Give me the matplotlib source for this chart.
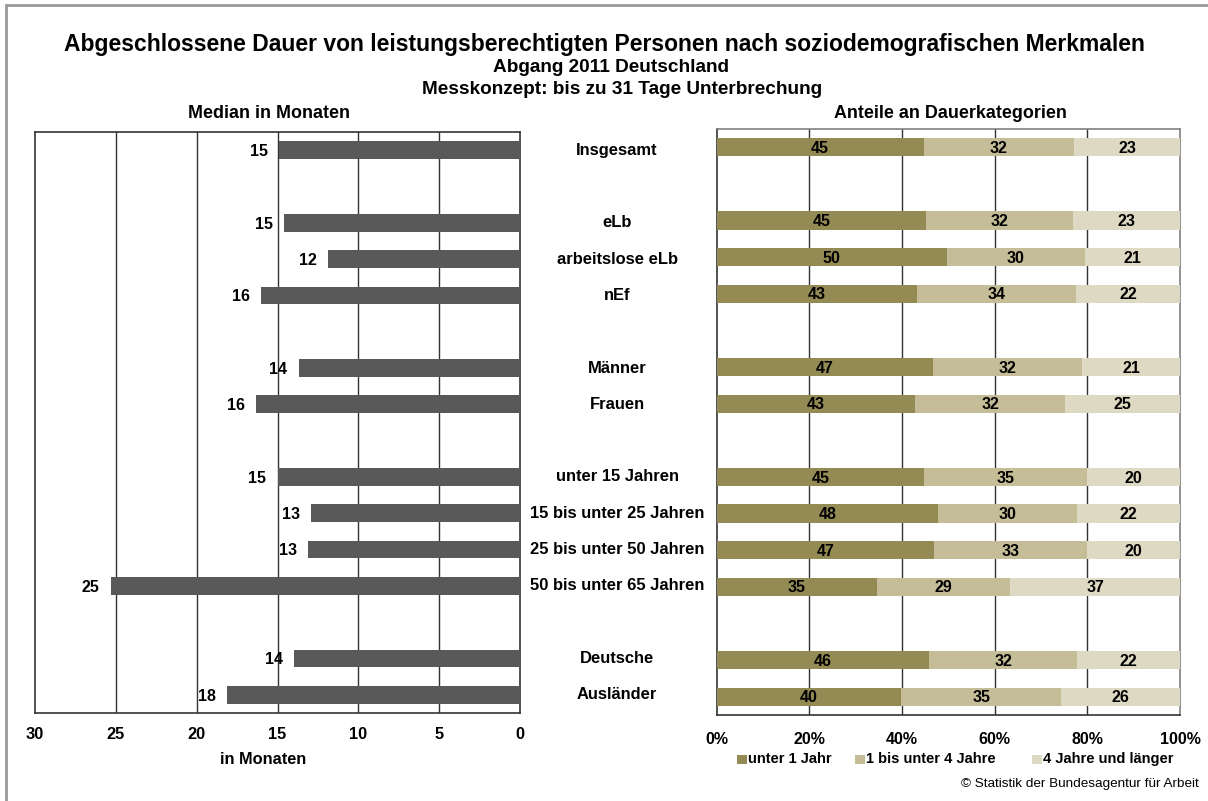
import matplotlib
matplotlib.use("Agg")
import matplotlib.pyplot as plt
from matplotlib.patches import Rectangle
import numpy as np

plt.rcParams['font.family'] = ['Liberation Sans', 'DejaVu Sans']

categories = ["Insgesamt", "eLb", "arbeitslose eLb", "nEf", "Männer", "Frauen",
              "unter 15 Jahren", "15 bis unter 25 Jahren", "25 bis unter 50 Jahren",
              "50 bis unter 65 Jahren", "Deutsche", "Ausländer"]
slots = [0, 2, 3, 4, 6, 7, 9, 10, 11, 12, 14, 15]

median_months = [14.9, 14.6, 11.9, 16.0, 13.7, 16.3, 15.0, 12.9, 13.1, 25.3, 14.0, 18.1]

share_under1 = [44.7, 45.2, 49.7, 43.2, 46.6, 42.9, 44.8, 47.8, 47.0, 34.6, 45.8, 39.8]
share_1to4 = [32.4, 31.6, 29.7, 34.4, 32.3, 32.3, 35.2, 30.0, 33.0, 28.8, 32.0, 34.6]
share_4plus = [22.9, 23.2, 20.6, 22.4, 21.1, 24.8, 20.0, 22.2, 20.0, 36.6, 22.2, 25.6]

series_names = ["unter 1 Jahr", "1 bis unter 4 Jahre", "4 Jahre und länger"]
series_colors = ["#948A54", "#C4BD97", "#DDD9C3"]

left_ticks = [0, 5, 10, 15, 20, 25, 30]
right_ticks = [0, 20, 40, 60, 80, 100]


def rnd(v):
    return str(int(np.floor(v + 0.5)))


W, H = 1208, 801
fig = plt.figure(figsize=(W / 100, H / 100), dpi=100)

# outer frame
fig.patches.append(Rectangle((6 / W, -0.1), 1.2, 1.1 - 5.5 / H, transform=fig.transFigure,
                             fill=False, edgecolor="#999999", linewidth=2))

# Titles
fig.text(604 / W, 1 - 44 / H, "Abgeschlossene Dauer von leistungsberechtigten Personen nach soziodemografischen Merkmalen",
         ha="center", va="center", fontsize=16.5, fontweight="bold")
fig.text(611 / W, 1 - 67 / H, "Abgang 2011 Deutschland", ha="center", va="center", fontsize=13.7, fontweight="bold")
fig.text(622 / W, 1 - 89 / H, "Messkonzept: bis zu 31 Tage Unterbrechung", ha="center", va="center",
         fontsize=13.7, fontweight="bold")
fig.text(269 / W, 1 - 113 / H, "Median in Monaten", ha="center", va="center", fontsize=12.9, fontweight="bold")
fig.text(950 / W, 1 - 113 / H, "Anteile an Dauerkategorien", ha="center", va="center", fontsize=12.9, fontweight="bold")

# Left axes
axL = fig.add_axes([34.7 / W, (H - 713) / H, 485.6 / W, 581 / H])
y = np.array(slots)
axL.barh(y, median_months, height=0.49, color="#595959", zorder=3)
axL.set_xlim(30, 0)
axL.set_ylim(15.5, -0.5)
axL.set_xticks(left_ticks)
axL.set_xticklabels([str(t) for t in left_ticks], fontsize=11.8, fontweight="bold")
axL.tick_params(axis="x", length=0, pad=10)
axL.set_yticks([])
for t in left_ticks[1:-1]:
    axL.axvline(t, color="#333333", linewidth=1, zorder=1)
for s in axL.spines.values():
    s.set_color("#333333")
    s.set_linewidth(1.2)
for yi, v in zip(y, median_months):
    axL.annotate(rnd(v), (v, yi), xytext=(-8, -1), textcoords="offset points",
                 ha="right", va="center", fontsize=11.5, fontweight="bold")

fig.text(263 / W, 1 - 760 / H, "in Monaten", ha="center", va="center", fontsize=11.8, fontweight="bold")

# Category labels
for yi, c in zip(y, categories):
    axL.annotate(c, (0, yi), xycoords="data", xytext=(617 - 520.3, 0), textcoords="offset pixels",
                 ha="center", va="center", fontsize=11.9, fontweight="bold", annotation_clip=False)

# Right axes
axR = fig.add_axes([716.7 / W, (H - 715) / H, 463.3 / W, 586 / H])
left = np.zeros(len(y))
for vals, col, name in zip([share_under1, share_1to4, share_4plus], series_colors, series_names):
    vals = np.array(vals)
    axR.barh(y, vals, left=left, height=0.5, color=col, label=name, zorder=3)
    for yi, l, v in zip(y, left, vals):
        axR.text(l + v / 2, yi + 0.03, rnd(v), ha="center", va="center", fontsize=11.5, fontweight="bold", zorder=4)
    left = left + vals
axR.set_xlim(0, 100)
axR.set_ylim(15.5, -0.5)
axR.set_xticks(right_ticks)
axR.set_xticklabels([f"{t}%" for t in right_ticks], fontsize=11.5, fontweight="bold")
axR.tick_params(axis="x", length=0, pad=12)
axR.set_yticks([])
for t in right_ticks[1:-1]:
    axR.axvline(t, color="#333333", linewidth=1, zorder=1)
for s in axR.spines.values():
    s.set_color("#808080")
    s.set_linewidth(1.2)
axR.spines["left"].set_color("#333333")
axR.spines["bottom"].set_color("#333333")

# Legend (manual placement to match reference spacing)
legend_x = [737, 855, 1032]
ly = 759
for lx, col, name in zip(legend_x, series_colors, series_names):
    fig.patches.append(Rectangle((lx / W, 1 - (ly + 4.5) / H), 10 / W, 9 / H,
                                 transform=fig.transFigure, facecolor=col, edgecolor="none"))
    fig.text((lx + 11) / W, 1 - ly / H, name, ha="left", va="center", fontsize=10.5, fontweight="bold")

fig.text(1199 / W, 1 - 784 / H, "© Statistik der Bundesagentur für Arbeit", ha="right", va="center", fontsize=9.7)

fig.savefig("out.png", dpi=100)
